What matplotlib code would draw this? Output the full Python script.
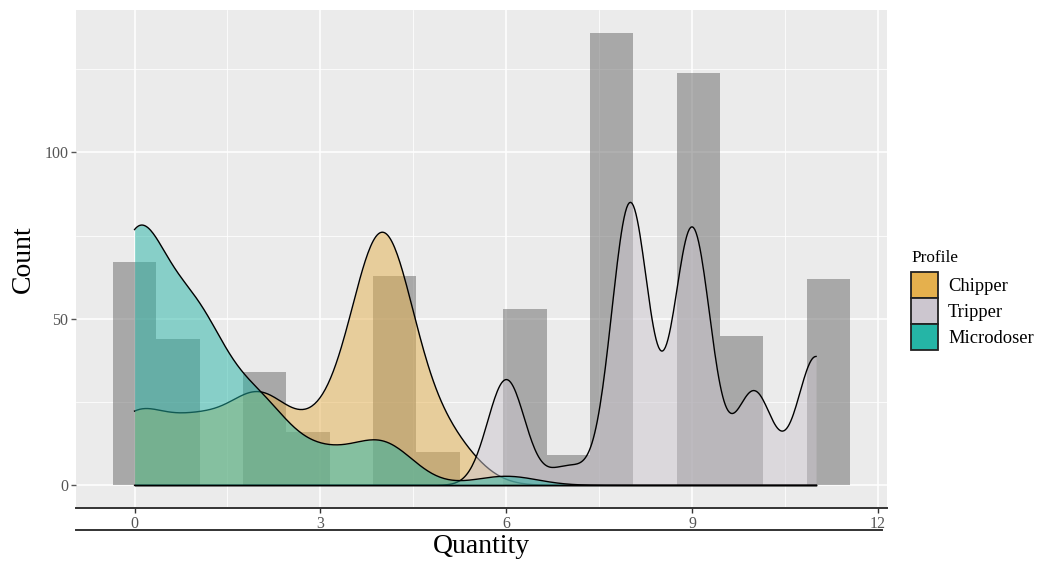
import numpy as np
import matplotlib.pyplot as plt
from matplotlib.patches import Patch
from matplotlib.lines import Line2D

quantity = np.arange(12)
chipper = [15, 12, 18, 10, 54, 10, 0, 0, 0, 0, 0, 0]
tripper = [0, 0, 0, 0, 0, 0, 51, 9, 136, 124, 45, 62]
microdoser = [52, 32, 16, 6, 9, 0, 2, 0, 0, 0, 0, 0]

profiles = ["Chipper", "Tripper", "Microdoser"]
fill_colors = ["#E5B04D", "#CCC6CF", "#25B5A6"]
bandwidths = [0.5, 0.3, 0.5]   # kernel bandwidth per profile
density_scale = 200            # y = density * 200

plt.rcParams['font.family'] = ['Liberation Serif', 'DejaVu Serif']

fig = plt.figure(figsize=(10.39, 5.61), dpi=100)
ax = fig.add_axes([76 / 1039, 1 - 508 / 561, 811 / 1039, 498 / 561])
ax.set_facecolor('#EBEBEB')

# histogram of all profiles together
total = np.array(chipper) + np.array(tripper) + np.array(microdoser)
edges = -0.35 + 0.7 * np.arange(18)
ax.hist(quantity, bins=edges, weights=total, color='#666666', alpha=0.5, zorder=2)

# gaussian kde per profile, evaluated over the whole x range
grid = np.linspace(0, 11, 512)
for name, counts, col, h in zip(profiles, [chipper, tripper, microdoser], fill_colors, bandwidths):
    counts = np.asarray(counts, float)
    kern = np.exp(-0.5 * ((grid[:, None] - quantity[None, :]) / h) ** 2)
    dens = (kern * counts).sum(axis=1) / (counts.sum() * h * np.sqrt(2 * np.pi))
    y = density_scale * dens
    ax.fill_between(grid, 0, y, color=col, alpha=0.5, lw=0, zorder=3)
    ax.plot(grid, y, color='black', lw=1.0, zorder=3)
    ax.plot([grid[0], grid[-1]], [0, 0], color='black', lw=1.0, zorder=3)

ax.set_xlim(-0.945, 12.145)
ax.set_ylim(-6.8, 142.8)
ax.set_xticks([0, 3, 6, 9, 12])
ax.set_xticks([1.5, 4.5, 7.5, 10.5], minor=True)
ax.set_yticks([0, 50, 100])
ax.set_yticks([25, 75, 125], minor=True)
ax.grid(which='major', color='white', lw=1.1)
ax.grid(which='minor', color='white', lw=0.55)
ax.set_axisbelow(True)

for s in ['top', 'right', 'left']:
    ax.spines[s].set_visible(False)
ax.spines['bottom'].set_color('#333333')
ax.spines['bottom'].set_linewidth(1.4)

ax.tick_params(which='minor', length=0)
ax.tick_params(axis='x', which='major', length=3.5, width=1.0, color='#333333',
               labelsize=11.5, labelcolor='#555555', pad=2)
ax.tick_params(axis='y', which='major', length=3.5, width=1.0, color='#555555',
               labelsize=11.5, labelcolor='#555555', pad=2)

ax.set_xlabel('Quantity', fontsize=20, labelpad=2)
ax.set_ylabel('Count', fontsize=20, labelpad=6)

# extra rule under the tick labels
fig.add_artist(Line2D([76 / 1039, 882 / 1039], [1 - 530 / 561] * 2, color='#333333', lw=1.4))

handles = [Patch(facecolor=c, edgecolor='#222222', lw=1.3) for c in fill_colors]
leg = fig.legend(handles, profiles, title='Profile', loc='upper left',
                 bbox_to_anchor=(911 / 1039, 1 - 250 / 561), frameon=False,
                 fontsize=13.3, title_fontsize=12.4, handlelength=1.46, handleheight=1.8,
                 labelspacing=0.0, handletextpad=0.55, borderaxespad=0, borderpad=0,
                 alignment='left')
leg._legend_box.sep = 4  # gap between title and keys

fig.savefig('out.png', dpi=100)
